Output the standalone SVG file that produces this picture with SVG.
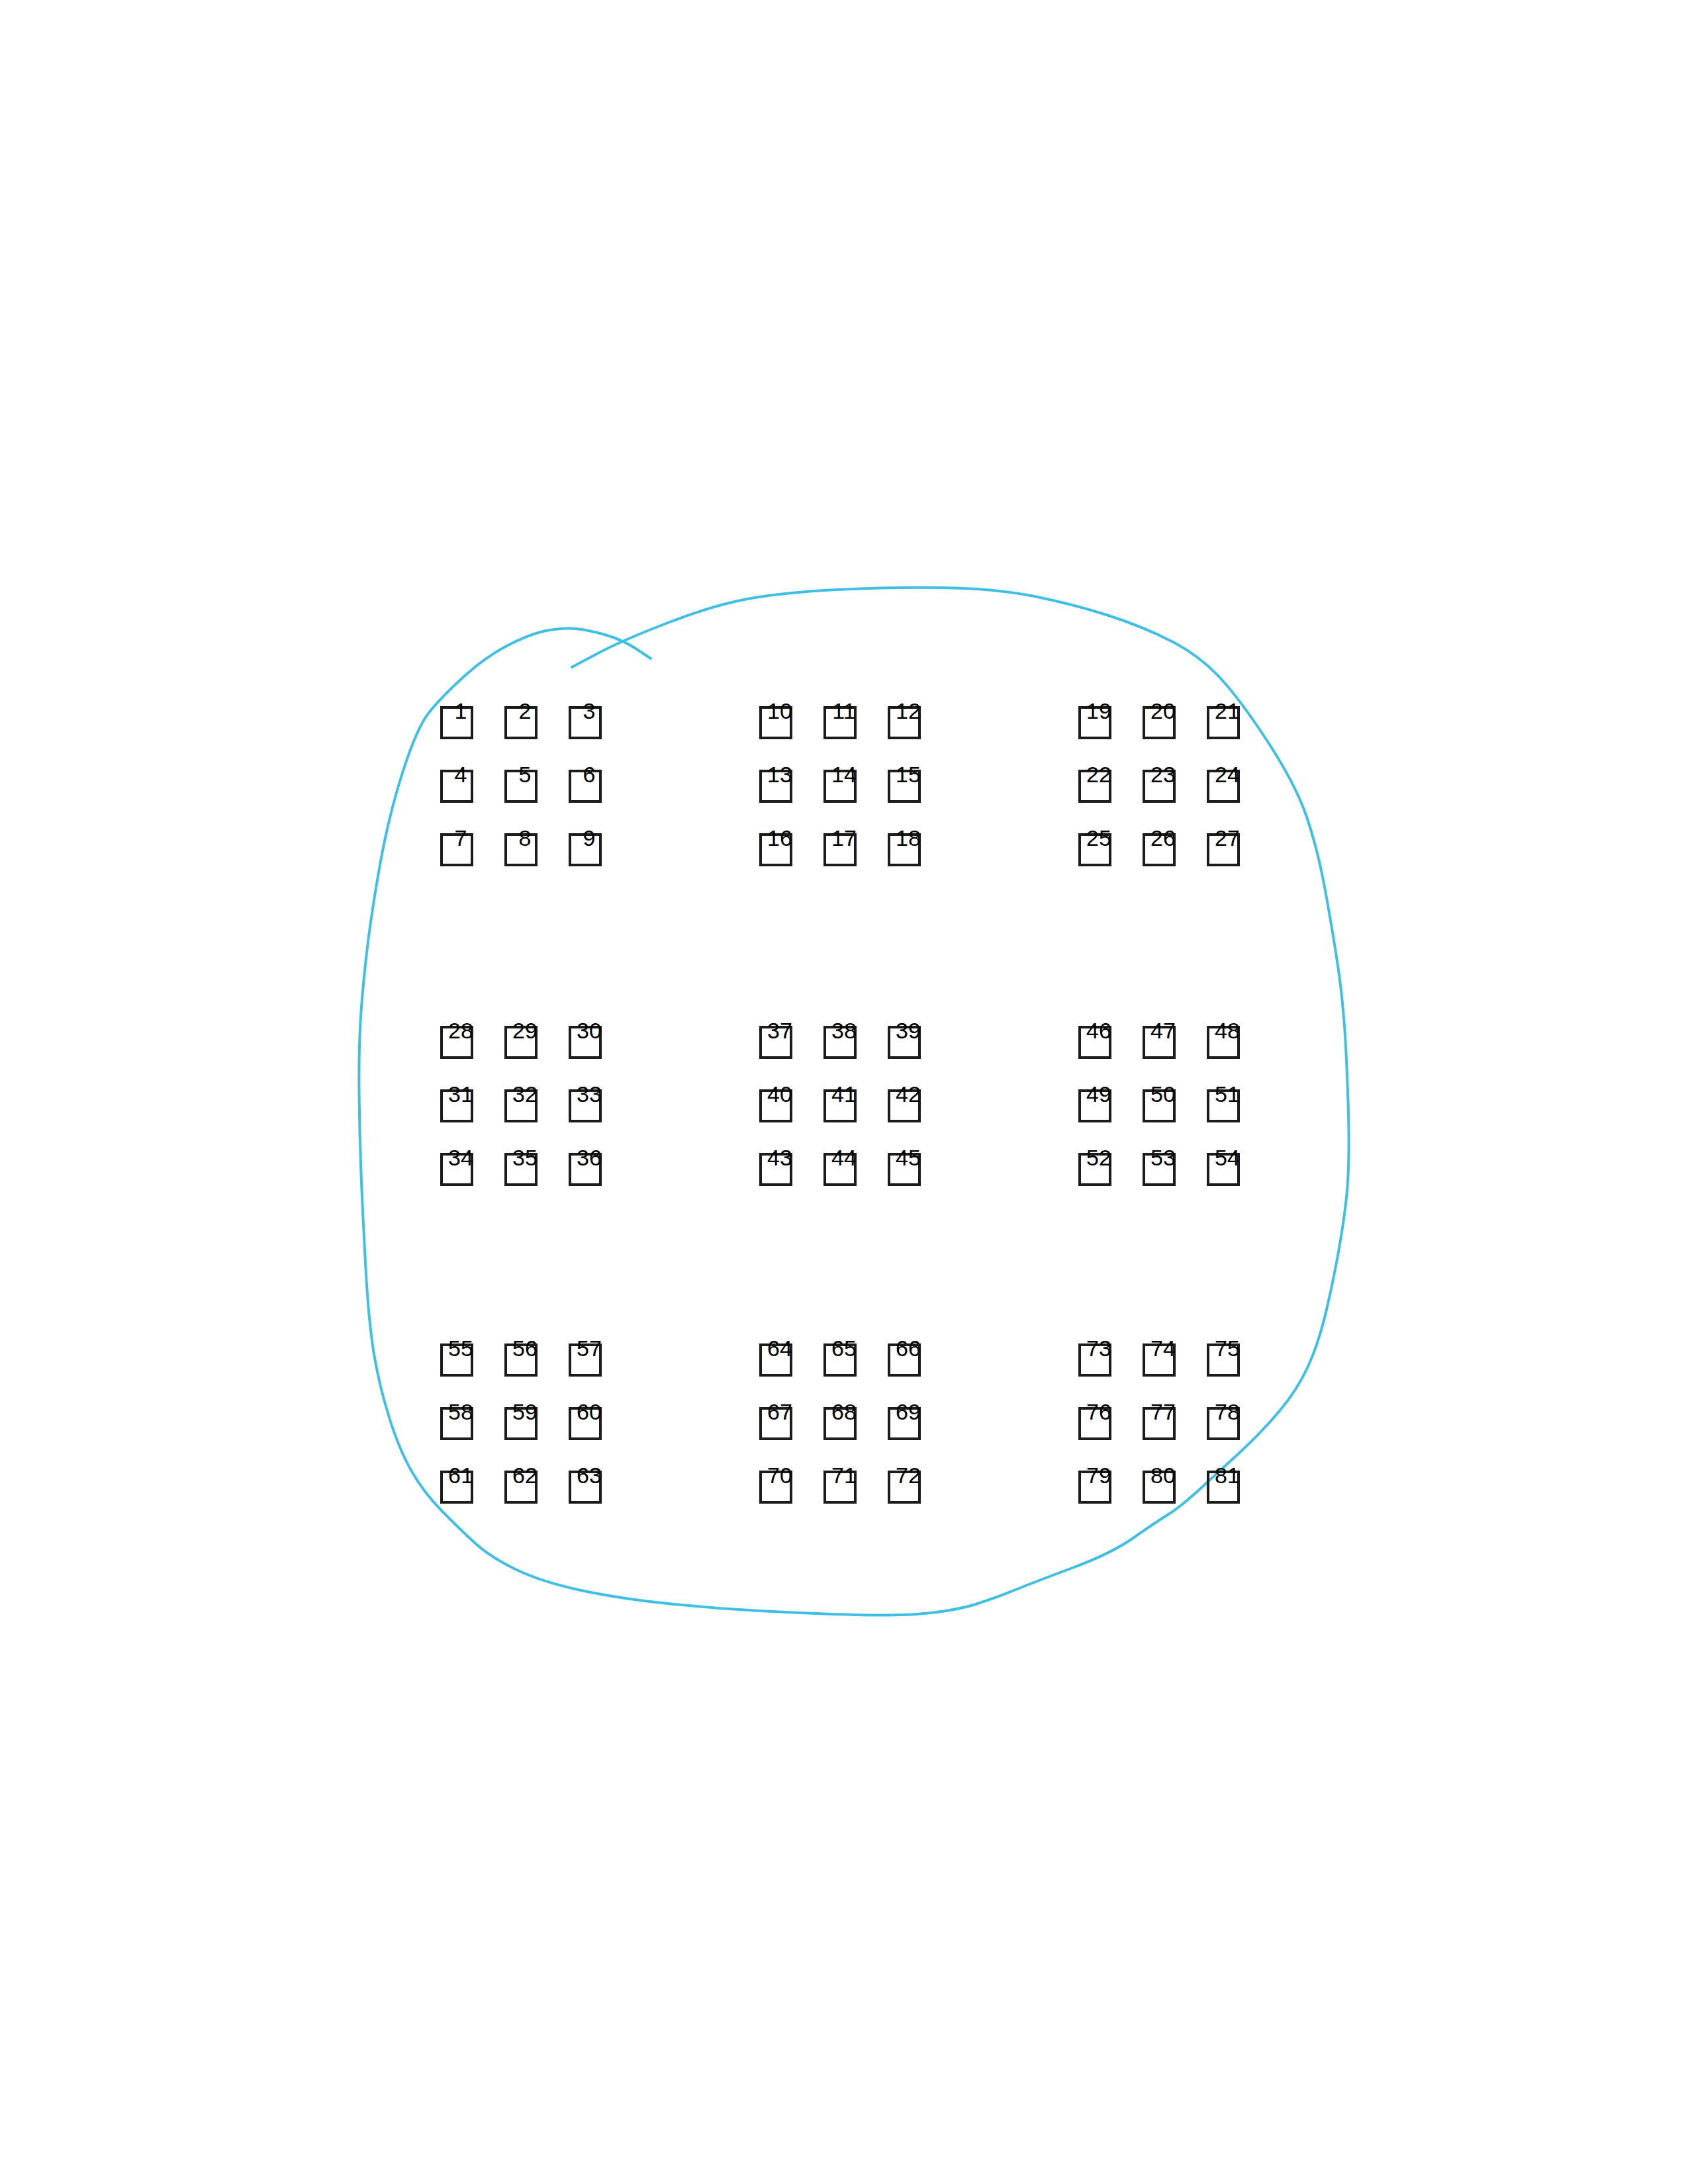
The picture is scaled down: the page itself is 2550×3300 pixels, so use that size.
<svg xmlns="http://www.w3.org/2000/svg" width="2550" height="3300" viewBox="0 0 2550 3300">
<style>
.b rect{fill:none;stroke:#1c1c1c;stroke-width:4}
.b text{font-family:"Liberation Sans",Arial,sans-serif;font-size:34px;fill:#000;text-anchor:middle}
.loop{fill:none;stroke:#3fbfe3;stroke-width:4;stroke-linecap:round;stroke-linejoin:round}
</style>
<rect x="0" y="0" width="2550" height="3300" fill="#fff"/>
<g id="connectors">
<path class="loop" d="M864,1008 L902.5,987.5 Q941,967 1011.5,940 Q1082,913 1134.5,904 Q1187,895 1264,891 Q1341,887 1422,888 Q1503,889 1562.5,901 Q1622,913 1674.5,930 Q1727,947 1769,968.5 Q1811,990 1842,1023 Q1873,1056 1915,1120.5 Q1957,1185 1973.5,1233 Q1990,1281 2001.5,1343 Q2013,1405 2021.5,1462.5 Q2030,1520 2033.5,1591.5 Q2037,1663 2037.5,1711 Q2038,1759 2035.5,1792.5 Q2033,1826 2025,1874 Q2017,1922 2005,1974.5 Q1993,2027 1976.5,2063.5 Q1960,2100 1932.5,2132.5 Q1905,2165 1872.5,2195 Q1840,2225 1811.5,2251 Q1783,2277 1764.5,2288.5 Q1746,2300 1712.5,2323.5 Q1679,2347 1621.5,2368.5 Q1564,2390 1535.5,2401.5 Q1507,2413 1478.5,2422.5 Q1450,2432 1406.5,2437 Q1363,2442 1291.5,2440 Q1220,2438 1148,2434 Q1076,2430 1004.5,2422.5 Q933,2415 875.5,2402.5 Q818,2390 779.5,2371.5 Q741,2353 717.5,2331.5 Q694,2310 667,2282.5 Q640,2255 621.5,2222.5 Q603,2190 588,2142 Q573,2094 565,2046 Q557,1998 552.5,1917 Q548,1836 545.5,1773.5 Q543,1711 542.5,1649 Q542,1587 544.5,1544 Q547,1501 553.5,1443.5 Q560,1386 573.5,1309.5 Q587,1233 608.5,1166 Q630,1099 648.5,1076 Q667,1053 700,1023 Q733,993 766.5,975.5 Q800,958 825,953 Q850,948 870,950 Q890,952 915.5,959.5 Q941,967 962,981 L983,995"/>
</g>
<g class="b">
<g id="n1"><rect x="667" y="1069" width="46" height="46"/><text x="696" y="1086">1</text></g>
<g id="n2"><rect x="764" y="1069" width="46" height="46"/><text x="793" y="1086">2</text></g>
<g id="n3"><rect x="861" y="1069" width="46" height="46"/><text x="890" y="1086">3</text></g>
<g id="n4"><rect x="667" y="1165" width="46" height="46"/><text x="696" y="1182">4</text></g>
<g id="n5"><rect x="764" y="1165" width="46" height="46"/><text x="793" y="1182">5</text></g>
<g id="n6"><rect x="861" y="1165" width="46" height="46"/><text x="890" y="1182">6</text></g>
<g id="n7"><rect x="667" y="1261" width="46" height="46"/><text x="696" y="1278">7</text></g>
<g id="n8"><rect x="764" y="1261" width="46" height="46"/><text x="793" y="1278">8</text></g>
<g id="n9"><rect x="861" y="1261" width="46" height="46"/><text x="890" y="1278">9</text></g>
<g id="n10"><rect x="1149" y="1069" width="46" height="46"/><text x="1178" y="1086">10</text></g>
<g id="n11"><rect x="1246" y="1069" width="46" height="46"/><text x="1275" y="1086">11</text></g>
<g id="n12"><rect x="1343" y="1069" width="46" height="46"/><text x="1372" y="1086">12</text></g>
<g id="n13"><rect x="1149" y="1165" width="46" height="46"/><text x="1178" y="1182">13</text></g>
<g id="n14"><rect x="1246" y="1165" width="46" height="46"/><text x="1275" y="1182">14</text></g>
<g id="n15"><rect x="1343" y="1165" width="46" height="46"/><text x="1372" y="1182">15</text></g>
<g id="n16"><rect x="1149" y="1261" width="46" height="46"/><text x="1178" y="1278">16</text></g>
<g id="n17"><rect x="1246" y="1261" width="46" height="46"/><text x="1275" y="1278">17</text></g>
<g id="n18"><rect x="1343" y="1261" width="46" height="46"/><text x="1372" y="1278">18</text></g>
<g id="n19"><rect x="1631" y="1069" width="46" height="46"/><text x="1660" y="1086">19</text></g>
<g id="n20"><rect x="1728" y="1069" width="46" height="46"/><text x="1757" y="1086">20</text></g>
<g id="n21"><rect x="1825" y="1069" width="46" height="46"/><text x="1854" y="1086">21</text></g>
<g id="n22"><rect x="1631" y="1165" width="46" height="46"/><text x="1660" y="1182">22</text></g>
<g id="n23"><rect x="1728" y="1165" width="46" height="46"/><text x="1757" y="1182">23</text></g>
<g id="n24"><rect x="1825" y="1165" width="46" height="46"/><text x="1854" y="1182">24</text></g>
<g id="n25"><rect x="1631" y="1261" width="46" height="46"/><text x="1660" y="1278">25</text></g>
<g id="n26"><rect x="1728" y="1261" width="46" height="46"/><text x="1757" y="1278">26</text></g>
<g id="n27"><rect x="1825" y="1261" width="46" height="46"/><text x="1854" y="1278">27</text></g>
<g id="n28"><rect x="667" y="1552" width="46" height="46"/><text x="696" y="1569">28</text></g>
<g id="n29"><rect x="764" y="1552" width="46" height="46"/><text x="793" y="1569">29</text></g>
<g id="n30"><rect x="861" y="1552" width="46" height="46"/><text x="890" y="1569">30</text></g>
<g id="n31"><rect x="667" y="1648" width="46" height="46"/><text x="696" y="1665">31</text></g>
<g id="n32"><rect x="764" y="1648" width="46" height="46"/><text x="793" y="1665">32</text></g>
<g id="n33"><rect x="861" y="1648" width="46" height="46"/><text x="890" y="1665">33</text></g>
<g id="n34"><rect x="667" y="1744" width="46" height="46"/><text x="696" y="1761">34</text></g>
<g id="n35"><rect x="764" y="1744" width="46" height="46"/><text x="793" y="1761">35</text></g>
<g id="n36"><rect x="861" y="1744" width="46" height="46"/><text x="890" y="1761">36</text></g>
<g id="n37"><rect x="1149" y="1552" width="46" height="46"/><text x="1178" y="1569">37</text></g>
<g id="n38"><rect x="1246" y="1552" width="46" height="46"/><text x="1275" y="1569">38</text></g>
<g id="n39"><rect x="1343" y="1552" width="46" height="46"/><text x="1372" y="1569">39</text></g>
<g id="n40"><rect x="1149" y="1648" width="46" height="46"/><text x="1178" y="1665">40</text></g>
<g id="n41"><rect x="1246" y="1648" width="46" height="46"/><text x="1275" y="1665">41</text></g>
<g id="n42"><rect x="1343" y="1648" width="46" height="46"/><text x="1372" y="1665">42</text></g>
<g id="n43"><rect x="1149" y="1744" width="46" height="46"/><text x="1178" y="1761">43</text></g>
<g id="n44"><rect x="1246" y="1744" width="46" height="46"/><text x="1275" y="1761">44</text></g>
<g id="n45"><rect x="1343" y="1744" width="46" height="46"/><text x="1372" y="1761">45</text></g>
<g id="n46"><rect x="1631" y="1552" width="46" height="46"/><text x="1660" y="1569">46</text></g>
<g id="n47"><rect x="1728" y="1552" width="46" height="46"/><text x="1757" y="1569">47</text></g>
<g id="n48"><rect x="1825" y="1552" width="46" height="46"/><text x="1854" y="1569">48</text></g>
<g id="n49"><rect x="1631" y="1648" width="46" height="46"/><text x="1660" y="1665">49</text></g>
<g id="n50"><rect x="1728" y="1648" width="46" height="46"/><text x="1757" y="1665">50</text></g>
<g id="n51"><rect x="1825" y="1648" width="46" height="46"/><text x="1854" y="1665">51</text></g>
<g id="n52"><rect x="1631" y="1744" width="46" height="46"/><text x="1660" y="1761">52</text></g>
<g id="n53"><rect x="1728" y="1744" width="46" height="46"/><text x="1757" y="1761">53</text></g>
<g id="n54"><rect x="1825" y="1744" width="46" height="46"/><text x="1854" y="1761">54</text></g>
<g id="n55"><rect x="667" y="2032" width="46" height="46"/><text x="696" y="2049">55</text></g>
<g id="n56"><rect x="764" y="2032" width="46" height="46"/><text x="793" y="2049">56</text></g>
<g id="n57"><rect x="861" y="2032" width="46" height="46"/><text x="890" y="2049">57</text></g>
<g id="n58"><rect x="667" y="2128" width="46" height="46"/><text x="696" y="2145">58</text></g>
<g id="n59"><rect x="764" y="2128" width="46" height="46"/><text x="793" y="2145">59</text></g>
<g id="n60"><rect x="861" y="2128" width="46" height="46"/><text x="890" y="2145">60</text></g>
<g id="n61"><rect x="667" y="2224" width="46" height="46"/><text x="696" y="2241">61</text></g>
<g id="n62"><rect x="764" y="2224" width="46" height="46"/><text x="793" y="2241">62</text></g>
<g id="n63"><rect x="861" y="2224" width="46" height="46"/><text x="890" y="2241">63</text></g>
<g id="n64"><rect x="1149" y="2032" width="46" height="46"/><text x="1178" y="2049">64</text></g>
<g id="n65"><rect x="1246" y="2032" width="46" height="46"/><text x="1275" y="2049">65</text></g>
<g id="n66"><rect x="1343" y="2032" width="46" height="46"/><text x="1372" y="2049">66</text></g>
<g id="n67"><rect x="1149" y="2128" width="46" height="46"/><text x="1178" y="2145">67</text></g>
<g id="n68"><rect x="1246" y="2128" width="46" height="46"/><text x="1275" y="2145">68</text></g>
<g id="n69"><rect x="1343" y="2128" width="46" height="46"/><text x="1372" y="2145">69</text></g>
<g id="n70"><rect x="1149" y="2224" width="46" height="46"/><text x="1178" y="2241">70</text></g>
<g id="n71"><rect x="1246" y="2224" width="46" height="46"/><text x="1275" y="2241">71</text></g>
<g id="n72"><rect x="1343" y="2224" width="46" height="46"/><text x="1372" y="2241">72</text></g>
<g id="n73"><rect x="1631" y="2032" width="46" height="46"/><text x="1660" y="2049">73</text></g>
<g id="n74"><rect x="1728" y="2032" width="46" height="46"/><text x="1757" y="2049">74</text></g>
<g id="n75"><rect x="1825" y="2032" width="46" height="46"/><text x="1854" y="2049">75</text></g>
<g id="n76"><rect x="1631" y="2128" width="46" height="46"/><text x="1660" y="2145">76</text></g>
<g id="n77"><rect x="1728" y="2128" width="46" height="46"/><text x="1757" y="2145">77</text></g>
<g id="n78"><rect x="1825" y="2128" width="46" height="46"/><text x="1854" y="2145">78</text></g>
<g id="n79"><rect x="1631" y="2224" width="46" height="46"/><text x="1660" y="2241">79</text></g>
<g id="n80"><rect x="1728" y="2224" width="46" height="46"/><text x="1757" y="2241">80</text></g>
<g id="n81"><rect x="1825" y="2224" width="46" height="46"/><text x="1854" y="2241">81</text></g>
</g>
</svg>
